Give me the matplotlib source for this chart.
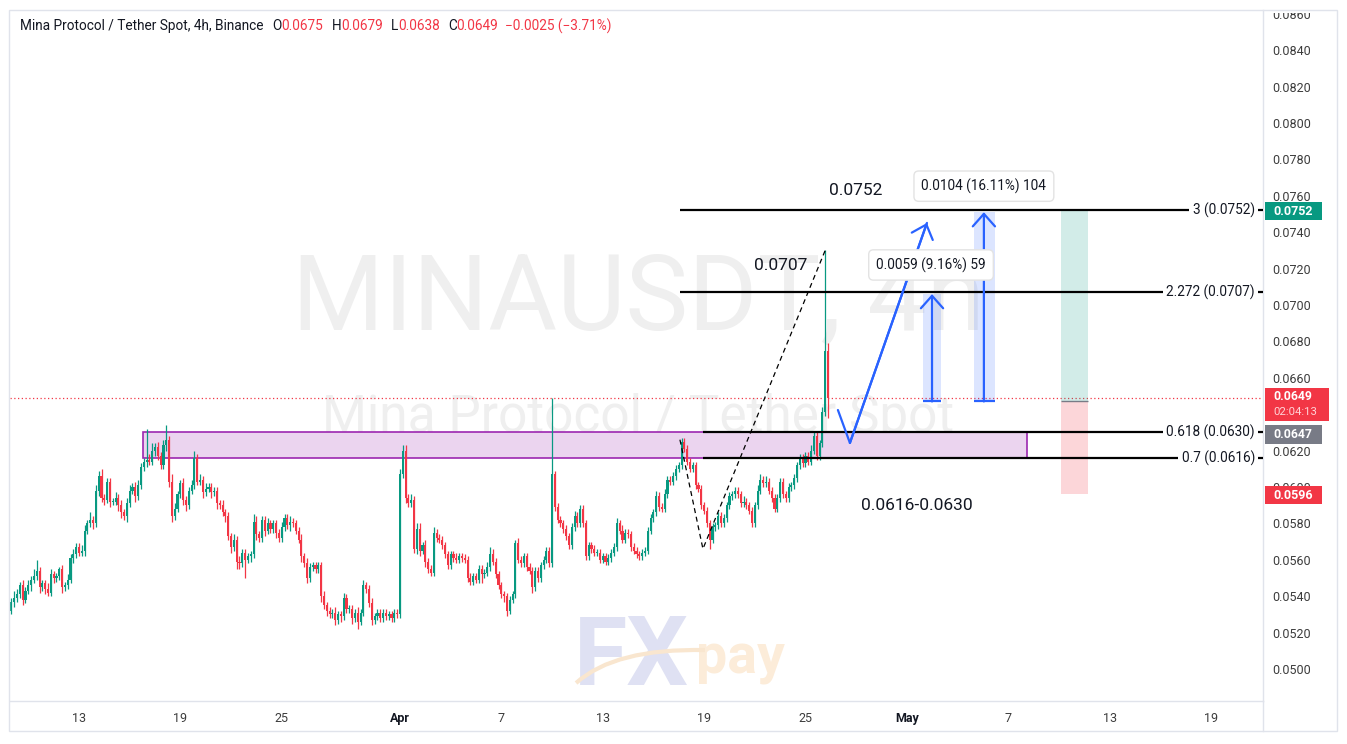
"""MINA/USDT 4h chart: demand zone, fib levels and target projections."""

import matplotlib
matplotlib.use("Agg")
import matplotlib.pyplot as plt
import matplotlib.transforms as mtransforms
from matplotlib.patches import Rectangle, PathPatch
from matplotlib.path import Path
import numpy as np

W, H, DPI = 1347, 744, 100

UP = "#089981"
DOWN = "#f23645"
BLUE = "#2962ff"
TEXT = "#131722"
BORDER = "#e0e3eb"

plt.rcParams["font.family"] = ["Roboto", "DejaVu Sans"]

# 4h closes in 1e-4 USDT, one row per day, first candle Mar 9 00:00
CLOSES = [
    [537, 539, 541, 546, 538, 543],
    [546, 549, 551, 554, 545, 547],
    [544, 542, 552, 550, 551, 555],
    [545, 546, 549, 561, 563, 567],
    [564, 565, 576, 580, 582, 580],
    [598, 606, 594, 593, 603, 592],
    [592, 594, 590, 586, 584, 591],
    [598, 600, 595, 601, 611, 614],
    [615, 614, 620, 622, 617, 612],
    [623, 626, 603, 584, 588, 596],
    [602, 593, 590, 598, 601, 616],
    [603, 604, 597, 599, 600, 597],
    [598, 591, 590, 586, 584, 573],
    [567, 571, 559, 558, 564, 560],
    [562, 563, 581, 574, 572, 582],
    [576, 580, 577, 580, 575, 572],
    [578, 583, 579, 581, 580, 576],
    [571, 562, 558, 550, 556, 557],
    [555, 557, 540, 535, 532, 530],
    [531, 527, 530, 529, 539, 533],
    [533, 528, 531, 526, 531, 546],
    [544, 536, 527, 529, 531, 528],
    [531, 529, 530, 528, 531, 530],
    [607, 620, 594, 591, 593, 566],
    [577, 565, 568, 559, 555, 553],
    [575, 572, 571, 568, 563, 557],
    [563, 561, 560, 562, 561, 560],
    [550, 548, 551, 549, 555, 552],
    [553, 556, 563, 559, 552, 546],
    [541, 540, 532, 538, 541, 569],
    [560, 558, 562, 556, 554, 545],
    [554, 550, 557, 560, 565, 558],
    [607, 589, 582, 580, 577, 573],
    [568, 578, 584, 580, 588, 580],
    [562, 568, 566, 564, 564, 560],
    [562, 559, 561, 564, 567, 580],
    [576, 571, 575, 574, 567, 565],
    [563, 562, 564, 565, 576, 583],
    [586, 595, 589, 588, 596, 604],
    [603, 606, 610, 612, 625, 621],
    [614, 610, 612, 601, 599, 590],
    [587, 580, 571, 578, 579, 584],
    [580, 583, 590, 595, 596, 598],
    [596, 591, 592, 590, 587, 580],
    [590, 598, 604, 602, 603, 598],
    [594, 588, 594, 603, 596, 594],
    [600, 601, 605, 612, 616, 613],
    [617, 614, 620, 628, 617, 624],
    [641, 675, 649],
]
FIRST_OPEN = 532

# wick length above / below the body, same units
UP_WICK = [
    [2, 4, 3, 2, 3, 2], [3, 2, 4, 6, 2, 2], [2, 3, 3, 2, 2, 1], [2, 2, 3, 2, 3, 2],
    [2, 3, 3, 2, 4, 2], [3, 3, 4, 2, 2, 2], [2, 3, 2, 3, 2, 3], [3, 2, 3, 3, 2, 2],
    [17, 3, 4, 2, 3, 2], [3, 8, 2, 4, 3, 2], [2, 3, 2, 2, 3, 4], [2, 3, 2, 3, 2, 2],
    [2, 2, 2, 3, 2, 2], [2, 3, 2, 3, 2, 2], [2, 2, 4, 3, 2, 2], [2, 3, 2, 2, 2, 2],
    [3, 2, 2, 3, 2, 2], [2, 3, 2, 3, 2, 2], [2, 2, 2, 3, 2, 2], [2, 3, 2, 2, 3, 2],
    [2, 2, 2, 3, 2, 3], [2, 2, 3, 2, 2, 2], [2, 2, 2, 2, 2, 2], [3, 3, 3, 2, 3, 2],
    [3, 3, 2, 3, 2, 2], [3, 2, 2, 2, 2, 2], [2, 2, 3, 2, 2, 2], [2, 3, 2, 2, 2, 2],
    [2, 3, 4, 3, 2, 2], [2, 2, 2, 2, 2, 2], [3, 2, 2, 2, 2, 2], [2, 2, 2, 2, 2, 2],
    [42, 2, 2, 2, 2, 2], [2, 2, 3, 2, 2, 2], [2, 2, 2, 2, 2, 2], [2, 2, 2, 2, 2, 3],
    [2, 3, 2, 2, 2, 2], [2, 2, 2, 2, 2, 2], [2, 3, 2, 2, 3, 2], [2, 2, 2, 2, 2, 2],
    [2, 2, 2, 2, 2, 2], [2, 2, 2, 2, 2, 2], [2, 2, 2, 2, 2, 2], [2, 2, 3, 2, 2, 2],
    [2, 3, 3, 2, 3, 2], [2, 2, 2, 2, 2, 2], [2, 2, 2, 2, 2, 2], [2, 2, 3, 2, 3, 2],
    [3, 55, 4],
]
DN_WICK = [
    [2, 3, 2, 2, 3, 2], [2, 3, 2, 2, 3, 2], [3, 2, 2, 3, 2, 2], [3, 2, 2, 2, 3, 2],
    [2, 2, 3, 2, 2, 3], [2, 3, 2, 3, 2, 3], [2, 2, 3, 3, 2, 3], [2, 2, 3, 2, 2, 2],
    [3, 2, 2, 3, 2, 2], [2, 3, 3, 3, 2, 2], [2, 3, 3, 2, 2, 2], [2, 2, 3, 2, 2, 3],
    [2, 3, 2, 2, 3, 2], [3, 2, 4, 3, 2, 10], [2, 3, 2, 3, 2, 2], [3, 2, 2, 2, 3, 2],
    [2, 2, 2, 3, 2, 2], [2, 3, 2, 3, 2, 2], [2, 2, 3, 2, 3, 2], [2, 3, 2, 3, 2, 2],
    [2, 3, 2, 4, 2, 2], [2, 2, 3, 2, 2, 2], [2, 2, 2, 2, 2, 2], [2, 2, 3, 2, 2, 2],
    [3, 3, 2, 3, 2, 2], [2, 2, 2, 2, 2, 2], [2, 2, 2, 2, 2, 2], [2, 2, 2, 2, 2, 5],
    [2, 2, 2, 2, 2, 2], [2, 3, 3, 2, 2, 2], [2, 2, 2, 2, 2, 3], [2, 2, 2, 2, 2, 2],
    [2, 2, 2, 2, 2, 2], [2, 2, 2, 2, 2, 2], [2, 2, 2, 2, 2, 2], [2, 2, 2, 2, 2, 2],
    [2, 2, 2, 2, 2, 2], [2, 2, 2, 2, 2, 2], [2, 2, 2, 2, 2, 2], [2, 2, 2, 2, 2, 2],
    [2, 2, 2, 2, 2, 2], [2, 2, 5, 2, 2, 2], [2, 2, 2, 2, 2, 2], [2, 2, 2, 2, 2, 2],
    [2, 2, 2, 2, 2, 2], [2, 2, 2, 2, 2, 2], [2, 2, 2, 2, 2, 2], [2, 2, 2, 2, 2, 2],
    [2, 2, 11],
]

# x axis is days since Mar 9 00:00
TICK_DAYS = [4, 10, 16, 23, 29, 35, 41, 47, 53, 59, 65, 71]
TICK_LABELS = ["13", "19", "25", "Apr", "7", "13", "19", "25", "May", "7", "13", "19"]
PRICE_TICKS = np.arange(0.050, 0.0861, 0.002)

ZONE_T = [7.79, 60.11]
ZONE_P = [0.0616, 0.0630]
FIB_LEVELS = ["3", "2.272", "0.618", "0.7"]
FIB_PRICES = [0.0752, 0.0707, 0.0630, 0.0616]
FIB_START = [39.57, 39.57, 40.93, 40.93]
SWING_T = [39.57, 40.93, 48.21]
SWING_P = [0.0626, 0.0566, 0.0731]
PATH_T = [48.92, 49.63, 54.19]
PATH_P = [0.06423, 0.06242, 0.07451]
RANGE_T0 = [53.95, 56.97]
RANGE_T1 = [55.02, 58.21]
RANGE_TC = [54.49, 57.56]
RANGE_FROM = [0.0647, 0.0647]
RANGE_TO = [0.0706, 0.0751]
RANGE_LABELS = ["0.0059 (9.16%) 59", "0.0104 (16.11%) 104"]
RANGE_LABEL_T = [54.43, 57.56]
RANGE_LABEL_P = [0.0722, 0.07653]
LONG_T = [62.12, 63.72]
LONG_ENTRY, LONG_TARGET, LONG_STOP = 0.0647, 0.0752, 0.0596
LAST_PRICE = 0.0649

closes = np.array([v for row in CLOSES for v in row]) / 1e4
opens = np.concatenate([[FIRST_OPEN / 1e4], closes[:-1]])
up = np.array([v for row in UP_WICK for v in row]) / 1e4
dn = np.array([v for row in DN_WICK for v in row]) / 1e4
t = np.arange(len(closes)) / 6.0
highs = np.maximum(opens, closes) + up
lows = np.minimum(opens, closes) - dn
colors = np.where(closes >= opens, UP, DOWN)

fig = plt.figure(figsize=(W / DPI, H / DPI), dpi=DPI)
ax = fig.add_axes([10 / W, 43 / H, 1253 / W, 691 / H])
ax.set_xlim(-0.083, 74.08)
ax.set_ylim(0.048242, 0.086209)
price_side = mtransforms.blended_transform_factory(ax.transAxes, ax.transData)

# watermark
ax.text(37.09, 0.068626, "MINAUSDT, 4h", fontsize=76, color="#efefef",
        ha="center", va="baseline", zorder=0)
ax.text(37.09, 0.063022, "Mina Protocol / Tether Spot", fontsize=37, color="#efefef",
        ha="center", va="baseline", zorder=0)

# FXpay logo
ax.text(33.3, 0.04912, "FX", fontsize=70, fontweight="bold",
        color="#dfe1f3", ha="left", va="baseline", zorder=0)
ax.text(40.5, 0.04975, "pay", fontsize=40, fontweight="bold",
        color="#fcecd9", ha="left", va="baseline", zorder=0)
swoosh = Path([(33.42, 0.04923), (35.72, 0.05115), (41.05, 0.05104)],
              [Path.MOVETO, Path.CURVE3, Path.CURVE3])
ax.add_patch(PathPatch(swoosh, fc="none", ec="#f9e6cf", lw=3, zorder=0.5))

# demand zone
ax.add_patch(Rectangle((ZONE_T[0], ZONE_P[0]), ZONE_T[1] - ZONE_T[0], ZONE_P[1] - ZONE_P[0],
                       fc="#ebd4ef", ec="#9c27b0", lw=1.2, zorder=1))

# candles
ax.vlines(t, lows, highs, colors=colors, lw=0.9, zorder=3)
body = np.maximum(np.abs(closes - opens), 0.00004)
ax.bar(t, body, bottom=np.minimum(opens, closes), width=0.125, color=colors,
       linewidth=0, zorder=4)

ax.axhline(LAST_PRICE, color=DOWN, lw=0.9, ls=(0, (1, 2)), zorder=2)

# fib levels
for lvl, p, t0 in zip(FIB_LEVELS, FIB_PRICES, FIB_START):
    ax.hlines(p, t0, 74.08, color="black", lw=1.6, zorder=5)
    ax.text(0.9936, p, f"{lvl} ({p:.4f})", transform=price_side, ha="right", va="center",
            fontsize=9.8, color=TEXT, zorder=6,
            bbox=dict(boxstyle="square,pad=0.25", fc="white", ec="none"))
ax.plot(SWING_T, SWING_P, color="black", lw=0.9, ls=(0, (4, 3)), zorder=5)

# projected path
ax.plot(PATH_T, PATH_P, color=BLUE, lw=1.6, zorder=6, solid_capstyle="round")
ax.annotate("", xy=(PATH_T[2], PATH_P[2]), xytext=(PATH_T[1], PATH_P[1]),
            arrowprops=dict(arrowstyle="->,head_length=0.9,head_width=0.8",
                            color=BLUE, lw=1.6, shrinkA=0, shrinkB=0), zorder=6)

# price range tools
for t0, t1, tc, p0, p1, lab, lt, lp in zip(RANGE_T0, RANGE_T1, RANGE_TC, RANGE_FROM,
                                          RANGE_TO, RANGE_LABELS, RANGE_LABEL_T, RANGE_LABEL_P):
    ax.add_patch(Rectangle((t0, p0), t1 - t0, p1 - p0, fc=BLUE, alpha=0.16, lw=0, zorder=2))
    ax.annotate("", xy=(tc, p1), xytext=(tc, p0),
                arrowprops=dict(arrowstyle="->,head_length=0.9,head_width=0.8",
                                color=BLUE, lw=1.6, shrinkA=0, shrinkB=0), zorder=6)
    ax.hlines(p0, t0, t1, color=BLUE, lw=1.6, zorder=6)
    ax.text(lt, lp, lab, ha="center", va="center", fontsize=9.8, color=TEXT, zorder=7,
            bbox=dict(boxstyle="round,pad=0.55,rounding_size=0.35", fc="white", ec="#e3e3e3"))

# long position box
ax.add_patch(Rectangle((LONG_T[0], LONG_ENTRY), LONG_T[1] - LONG_T[0], LONG_TARGET - LONG_ENTRY,
                       fc=UP, alpha=0.18, lw=0, zorder=2))
ax.add_patch(Rectangle((LONG_T[0], LONG_STOP), LONG_T[1] - LONG_T[0], LONG_ENTRY - LONG_STOP,
                       fc=DOWN, alpha=0.2, lw=0, zorder=2))
ax.hlines(LONG_ENTRY, LONG_T[0], LONG_T[1], color="#787b86", lw=1, zorder=3)

# annotations
ax.text(49.99, 0.07631, "0.0752", fontsize=12.5, color=TEXT, ha="center", va="center", zorder=7)
ax.text(45.55, 0.07219, "0.0707", fontsize=12.5, color=TEXT, ha="center", va="center", zorder=7)
ax.text(53.6, 0.05901, "0.0616-0.0630", fontsize=12.5, color=TEXT, ha="center", va="center", zorder=7)

# axes styling
ax.yaxis.tick_right()
ax.set_yticks(PRICE_TICKS)
ax.set_yticklabels([f"{p:.4f}" for p in PRICE_TICKS])
ax.tick_params(axis="y", length=0, pad=7, labelsize=9, labelcolor="#3c3c3c")
ax.set_xticks(TICK_DAYS)
ax.set_xticklabels(TICK_LABELS)
ax.tick_params(axis="x", length=0, pad=8, labelsize=9, labelcolor="#3c3c3c")
for lab in ax.get_xticklabels():
    if lab.get_text() in ("Apr", "May"):
        lab.set_fontweight("bold")
        lab.set_color(TEXT)
clip = mtransforms.TransformedBbox(mtransforms.Bbox([[1263 / W, 0], [1, 1 - 13 / H]]),
                                   fig.transFigure)
for lab in ax.get_yticklabels():
    lab.set_clip_box(clip)
    lab.set_clip_on(True)
for s in ("top", "left"):
    ax.spines[s].set_visible(False)
for s in ("right", "bottom"):
    ax.spines[s].set_color(BORDER)
    ax.spines[s].set_linewidth(1)

# price tags on the axis
px = 1 / 18206  # price per pixel


def tag(center, height_px, color, zorder=9):
    h = height_px * px
    ax.add_patch(Rectangle((1.0016, center - h / 2), 0.0455, h, transform=price_side,
                           fc=color, ec="none", clip_on=False, zorder=zorder))


tag(0.07516, 18, UP)
ax.text(1.024, 0.07516, "0.0752", transform=price_side, ha="center", va="center",
        fontsize=9, fontweight="bold", color="white", clip_on=False, zorder=10)
ax.add_patch(Rectangle((1.0016, 0.06452 - 16.5 * px), 0.051, 33 * px, transform=price_side,
                       fc=DOWN, ec="none", clip_on=False, zorder=9))
ax.text(1.024, 0.06498, "0.0649", transform=price_side, ha="center", va="center",
        fontsize=8.8, fontweight="bold", color="white", clip_on=False, zorder=10)
ax.text(1.026, 0.06410, "02:04:13", transform=price_side, ha="center", va="center",
        fontsize=8.2, color="#ffd3d7", clip_on=False, zorder=10)
tag(0.06290, 19, "#787b86")
ax.text(1.024, 0.06286, "0.0647", transform=price_side, ha="center", va="center",
        fontsize=8.8, fontweight="bold", color="white", clip_on=False, zorder=10)
tag(0.05956, 18, DOWN)
ax.text(1.024, 0.05956, "0.0596", transform=price_side, ha="center", va="center",
        fontsize=9, fontweight="bold", color="white", clip_on=False, zorder=10)

# outer frame and time-axis separator
fig.patches.append(Rectangle((9 / W, 13 / H), 1328 / W, 721 / H, transform=fig.transFigure,
                             fill=False, ec=BORDER, lw=1))
fig.lines.append(plt.Line2D([1263 / W, 1263 / W], [13 / H, 43 / H], transform=fig.transFigure,
                            color=BORDER, lw=1))

# header: pieces laid out left to right, (text, colour, gap in px before the next piece)
HEADER = [
    ("Mina Protocol / Tether Spot, 4h, Binance", TEXT, 9),
    ("O", TEXT, 0), ("0.0675", DOWN, 8),
    ("H", TEXT, 0), ("0.0679", DOWN, 8),
    ("L", TEXT, 0), ("0.0638", DOWN, 8),
    ("C", TEXT, 0), ("0.0649", DOWN, 7),
    ("\u22120.0025 (\u22123.71%)", DOWN, 0),
]
renderer = fig.canvas.get_renderer()
x = 20
for s, c, gap in HEADER:
    txt = fig.text(x / W, 1 - 26 / H, s, fontsize=9.8, color=c, ha="left", va="center")
    x += txt.get_window_extent(renderer).width + gap

fig.savefig("out.png", dpi=DPI, facecolor="white")
